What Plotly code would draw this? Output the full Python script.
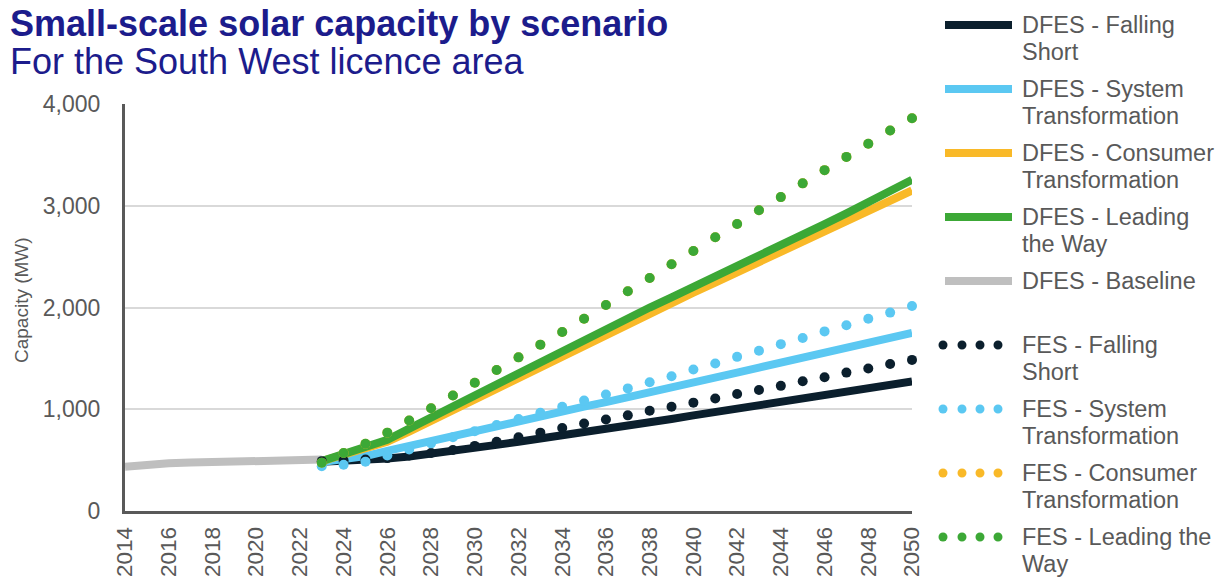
import plotly.graph_objects as go

# ---------------- data ----------------
base_years = [2014, 2015, 2016, 2017, 2018, 2019, 2020, 2021, 2022, 2023]
baseline = [435, 462, 470, 476, 480, 483, 487, 494, 503, 505]

years = list(range(2023, 2051))
dfes_falling_short = [485, 490, 500, 515, 535, 560, 590, 620, 650, 680, 710, 740, 770, 800,
                      835, 870, 905, 940, 975, 1010, 1045, 1080, 1110, 1140, 1175, 1205, 1240, 1272]
dfes_system_transformation = [480, 505, 540, 590, 640, 690, 740, 790, 840, 885, 930, 980, 1025, 1070,
                              1115, 1165, 1215, 1265, 1310, 1360, 1410, 1460, 1505, 1555, 1605, 1650, 1700, 1750]
dfes_consumer_transformation = [490, 555, 615, 680, 780, 885, 990, 1095, 1205, 1315, 1425, 1530, 1640, 1745,
                                1845, 1945, 2045, 2145, 2245, 2345, 2445, 2545, 2645, 2745, 2845, 2945, 3045, 3150]
dfes_leading_the_way = [490, 560, 625, 700, 810, 920, 1030, 1140, 1250, 1360, 1470, 1580, 1690, 1795,
                        1900, 2000, 2100, 2200, 2305, 2410, 2510, 2615, 2715, 2820, 2925, 3035, 3145, 3255]

fes_falling_short = [490, 495, 505, 520, 545, 570, 600, 640, 680, 725, 770, 815, 860, 900,
                     940, 985, 1025, 1065, 1105, 1150, 1190, 1230, 1275, 1315, 1360, 1400, 1445, 1485]
fes_system_transformation = [440, 455, 485, 545, 605, 665, 725, 785, 845, 905, 965, 1025, 1085, 1145,
                             1205, 1265, 1325, 1390, 1450, 1515, 1575, 1640, 1700, 1765, 1825, 1890, 1950, 2015]
fes_consumer_transformation = [475, 570, 660, 770, 890, 1010, 1135, 1260, 1385, 1510, 1635, 1760, 1890, 2025,
                               2160, 2290, 2425, 2555, 2690, 2820, 2955, 3085, 3220, 3350, 3480, 3610, 3740, 3860]
fes_leading_the_way = [475, 570, 660, 770, 890, 1010, 1135, 1260, 1385, 1510, 1635, 1760, 1890, 2025,
                       2160, 2290, 2425, 2555, 2690, 2820, 2955, 3085, 3220, 3350, 3480, 3610, 3740, 3860]

x_tick_years = list(range(2014, 2051, 2))
y_ticks = [0, 1000, 2000, 3000, 4000]

title_text = "Small-scale solar capacity by scenario"
subtitle_text = "For the South West licence area"
y_title = "Capacity (MW)"

# ---------------- style ----------------
C_DARK = "#0b1f2d"
C_BLUE = "#5bc8f2"
C_YELLOW = "#f9b928"
C_GREEN = "#3ca836"
C_GREY = "#bfbfbf"
C_TEXT = "#595959"
C_TITLE = "#1c1c8c"
FONT = "Liberation Sans, Arial, sans-serif"

W, H = 1225, 579
L, R, T, B = 125, 313, 104, 68
PW, PH = W - L - R, H - T - B


def px_x(px):
    return (px - L) / PW


def px_y(py):
    return (H - B - py) / PH


fig = go.Figure()

solid = [
    ("DFES - Falling Short", years, dfes_falling_short, C_DARK),
    ("DFES - System Transformation", years, dfes_system_transformation, C_BLUE),
    ("DFES - Consumer Transformation", years, dfes_consumer_transformation, C_YELLOW),
    ("DFES - Leading the Way", years, dfes_leading_the_way, C_GREEN),
    ("DFES - Baseline", base_years, baseline, C_GREY),
]
for name, xs, ys, col in solid:
    fig.add_trace(go.Scatter(x=xs, y=ys, name=name, mode="lines",
                             line=dict(color=col, width=8), showlegend=False))

dotted = [
    ("FES - Falling Short", fes_falling_short, C_DARK),
    ("FES - System Transformation", fes_system_transformation, C_BLUE),
    ("FES - Consumer Transformation", fes_consumer_transformation, C_YELLOW),
    ("FES - Leading the Way", fes_leading_the_way, C_GREEN),
]
for name, ys, col in dotted:
    fig.add_trace(go.Scatter(x=years, y=ys, name=name, mode="markers",
                             marker=dict(color=col, size=10, line=dict(width=0)),
                             cliponaxis=False, showlegend=False))

# ---------------- manual legend ----------------
legend_items = [
    (["DFES - Falling", "Short"], C_DARK, "line", 25),
    (["DFES - System", "Transformation"], C_BLUE, "line", 89),
    (["DFES - Consumer", "Transformation"], C_YELLOW, "line", 153),
    (["DFES - Leading", "the Way"], C_GREEN, "line", 217),
    (["DFES - Baseline"], C_GREY, "line", 281),
    (["FES - Falling", "Short"], C_DARK, "dots", 345),
    (["FES - System", "Transformation"], C_BLUE, "dots", 409),
    (["FES - Consumer", "Transformation"], C_YELLOW, "dots", 473),
    (["FES - Leading the", "Way"], C_GREEN, "dots", 537),
]
shapes = []
annotations = []
for lines, col, kind, yc in legend_items:
    if kind == "line":
        shapes.append(dict(type="line", xref="paper", yref="paper",
                           x0=px_x(945), x1=px_x(1012), y0=px_y(yc), y1=px_y(yc),
                           line=dict(color=col, width=8)))
    else:
        for dx in (943, 962, 980, 998):
            shapes.append(dict(type="circle", xref="paper", yref="paper",
                               xsizemode="pixel", ysizemode="pixel",
                               xanchor=px_x(dx), yanchor=px_y(yc),
                               x0=-4.5, x1=4.5, y0=-4.5, y1=4.5,
                               fillcolor=col, line=dict(width=0)))
    for i, t in enumerate(lines):
        annotations.append(dict(text=t, xref="paper", yref="paper",
                                x=px_x(1020), y=px_y(yc + 27 * i),
                                xanchor="left", yanchor="middle", showarrow=False,
                                font=dict(family=FONT, size=23.5, color=C_TEXT)))

annotations.append(dict(text="<b>" + title_text + "</b>", xref="paper", yref="paper",
                        x=px_x(8), y=px_y(0.5), xanchor="left", yanchor="top",
                        showarrow=False, font=dict(family=FONT, size=36, color=C_TITLE)))
annotations.append(dict(text=subtitle_text, xref="paper", yref="paper",
                        x=px_x(8), y=px_y(38.5), xanchor="left", yanchor="top",
                        showarrow=False, font=dict(family=FONT, size=36, color=C_TITLE)))
annotations.append(dict(text=y_title, xref="paper", yref="paper",
                        x=px_x(21), y=px_y(300), xanchor="center", yanchor="middle",
                        textangle=-90, showarrow=False,
                        font=dict(family=FONT, size=19, color=C_TEXT)))

fig.update_layout(
    width=W, height=H,
    margin=dict(l=L, r=R, t=T, b=B, autoexpand=False),
    paper_bgcolor="white", plot_bgcolor="white",
    showlegend=False,
    font=dict(family=FONT, color=C_TEXT),
    xaxis=dict(range=[2014, 2050], tickmode="array", tickvals=x_tick_years,
               ticktext=[str(y) for y in x_tick_years], tickangle=-90,
               showgrid=False, zeroline=False, showline=True,
               linecolor=C_TEXT, linewidth=3, ticks="", automargin=False,
               tickfont=dict(family=FONT, size=22.5, color=C_TEXT),
               ticklabelstandoff=4),
    yaxis=dict(range=[0, 4000], tickmode="array", tickvals=y_ticks, tickformat=",",
               showgrid=True, gridcolor="#d9d9d9", gridwidth=2, zeroline=False,
               showline=True, linecolor=C_TEXT, linewidth=3, ticks="", automargin=False,
               tickfont=dict(family=FONT, size=23, color=C_TEXT),
               ticklabelstandoff=17),
    shapes=shapes,
    annotations=annotations,
)

fig.write_html("out.html")
